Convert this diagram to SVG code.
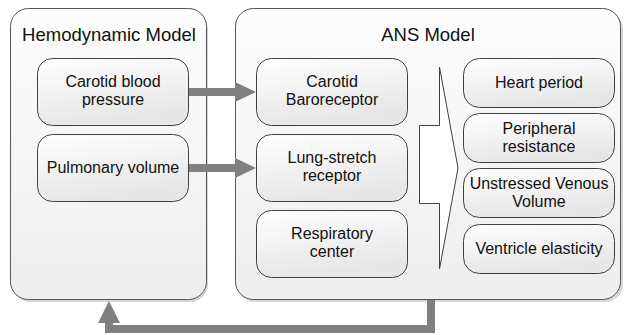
<svg xmlns="http://www.w3.org/2000/svg" width="624" height="335" viewBox="0 0 624 335">
  <defs>
    <linearGradient id="gCont" x1="0" y1="0" x2="0" y2="1">
      <stop offset="0" stop-color="#fdfdfd"/>
      <stop offset="1" stop-color="#eeeeee"/>
    </linearGradient>
    <linearGradient id="gBox" x1="0" y1="0" x2="0.3" y2="1">
      <stop offset="0" stop-color="#ffffff"/>
      <stop offset="1" stop-color="#e6e6e6"/>
    </linearGradient>
  </defs>
  <style>
    .cont { fill: url(#gCont); stroke: #555555; stroke-width: 1; }
    .shadow { fill: #d6d6d6; }
    .box { fill: url(#gBox); stroke: #404040; stroke-width: 1; }
    .title { font-family: "Liberation Sans", Arial, sans-serif; font-size: 18.5px; fill: #111111; text-anchor: middle; }
    .lbl { font-family: "Liberation Sans", Arial, sans-serif; font-size: 16px; fill: #111111; text-anchor: middle; }
    .conn { fill: none; stroke: #808080; stroke-width: 8; }
    .head { fill: #808080; }
  </style>

  <g id="hemodynamic-model">
    <rect class="shadow" x="12" y="11" width="196" height="291" rx="18"/>
    <rect class="cont" x="10.5" y="8.5" width="196" height="291" rx="18"/>
    <text class="title" x="109" y="41">Hemodynamic Model</text>
  </g>

  <g id="ans-model">
    <rect class="shadow" x="237" y="11" width="386" height="291" rx="18"/>
    <rect class="cont" x="235.5" y="8.5" width="385" height="291" rx="18"/>
    <text class="title" x="428" y="41">ANS Model</text>
  </g>

  <g id="carotid-blood-pressure">
    <rect class="box" x="37.5" y="58.5" width="151" height="67" rx="15"/>
    <text class="lbl" x="113" y="87">Carotid blood</text>
    <text class="lbl" x="113" y="105">pressure</text>
  </g>

  <g id="pulmonary-volume">
    <rect class="box" x="37.5" y="134.5" width="151" height="67" rx="15"/>
    <text class="lbl" x="113" y="173">Pulmonary volume</text>
  </g>

  <g id="carotid-baroreceptor">
    <rect class="box" x="256.5" y="58.5" width="151" height="67" rx="15"/>
    <text class="lbl" x="332" y="87">Carotid</text>
    <text class="lbl" x="332" y="105">Baroreceptor</text>
  </g>

  <g id="lung-stretch-receptor">
    <rect class="box" x="256.5" y="134.5" width="151" height="67" rx="15"/>
    <text class="lbl" x="332" y="163">Lung-stretch</text>
    <text class="lbl" x="332" y="181">receptor</text>
  </g>

  <g id="respiratory-center">
    <rect class="box" x="256.5" y="210.5" width="151" height="67" rx="15"/>
    <text class="lbl" x="332" y="239">Respiratory</text>
    <text class="lbl" x="332" y="257">center</text>
  </g>

  <g id="big-arrow">
    <polygon points="419.5,125.5 439.5,125.5 439.5,67 458,168 439.5,269 439.5,203.5 419.5,203.5" fill="#ffffff" stroke="#404040" stroke-width="1"/>
  </g>

  <g id="heart-period">
    <rect class="box" x="463.5" y="58.5" width="151" height="49" rx="16"/>
    <text class="lbl" x="539" y="88">Heart period</text>
  </g>

  <g id="peripheral-resistance">
    <rect class="box" x="463.5" y="113.5" width="151" height="49" rx="16"/>
    <text class="lbl" x="539" y="134">Peripheral</text>
    <text class="lbl" x="539" y="152">resistance</text>
  </g>

  <g id="unstressed-venous-volume">
    <rect class="box" x="463.5" y="168.5" width="151" height="49" rx="16"/>
    <text class="lbl" x="539" y="189">Unstressed Venous</text>
    <text class="lbl" x="539" y="207">Volume</text>
  </g>

  <g id="ventricle-elasticity">
    <rect class="box" x="463.5" y="224.5" width="151" height="49" rx="16"/>
    <text class="lbl" x="539" y="254">Ventricle elasticity</text>
  </g>

  <g id="connectors">
    <line class="conn" x1="189" y1="92" x2="237" y2="92"/>
    <polygon class="head" points="235,82 256,92 235,102"/>
    <line class="conn" x1="189" y1="168" x2="237" y2="168"/>
    <polygon class="head" points="235,158 256,168 235,178"/>
    <polyline class="conn" points="431,300 431,329 109,329 109,321"/>
    <polygon class="head" points="98,323 109,301 120,323"/>
  </g>
</svg>
